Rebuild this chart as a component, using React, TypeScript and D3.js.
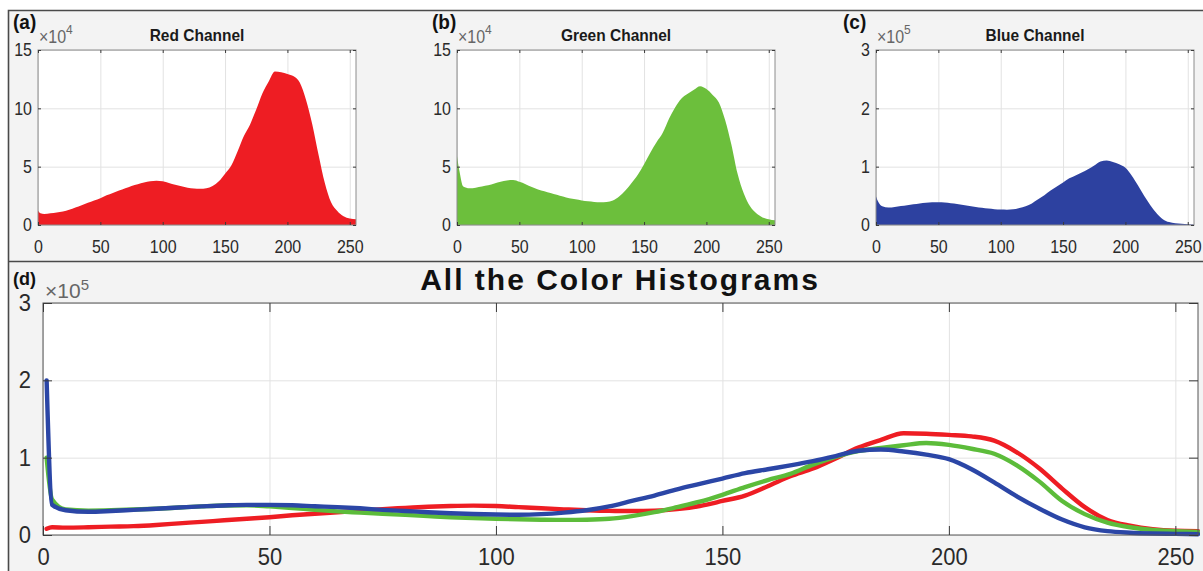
import React, { useEffect, useRef } from 'react';
import * as d3 from 'd3';

// intensity levels the histogram was read at
const levels = [0, 2, 5, 10, 15, 20, 25, 30, 35, 40, 45, 50, 55, 60, 65, 70, 75, 80, 85, 90, 95, 100,
  105, 110, 115, 120, 125, 130, 135, 140, 145, 150, 155, 160, 165, 170, 175, 180, 185, 190, 195, 200,
  205, 210, 215, 220, 225, 230, 235, 240, 245, 250, 255];

const redCounts = [12500, 10000, 9500, 10000, 10800, 11500, 13000, 15000, 17000, 19000, 21000, 23000,
  25500, 27500, 29500, 31500, 33500, 35000, 36500, 37500, 38000, 37500, 36000, 34500, 33200, 32000,
  31200, 31000, 31500, 33500, 37500, 44000, 51000, 63000, 76000, 86000, 99000, 113000, 123000, 131500,
  131000, 129500, 127500, 122000, 107000, 86000, 60000, 36000, 19500, 12000, 7500, 5500, 5000];

const greenCounts = [59000, 46000, 33000, 31500, 32000, 33000, 34000, 35500, 37000, 38200, 38500, 37000,
  35000, 32500, 30500, 29000, 27500, 26000, 24500, 23000, 22000, 21000, 20300, 19800, 19500, 19800,
  21000, 24500, 29500, 36000, 43000, 52000, 62000, 71000, 79000, 91000, 101000, 108500, 112500, 116000,
  119000, 116500, 111500, 105000, 90000, 69000, 44000, 27000, 16000, 10000, 6500, 5000, 4000];

const blueCounts = [49000, 39000, 32000, 30000, 31000, 32500, 34000, 35500, 37000, 38200, 39000, 39000,
  38500, 37200, 36000, 34500, 32500, 31000, 29500, 28200, 27200, 26500, 26200, 27000, 29000, 32000,
  37000, 44000, 51000, 59000, 66000, 73000, 80000, 85000, 90000, 95500, 102000, 109000, 110500, 108000,
  104000, 98000, 85000, 68000, 50000, 34000, 20000, 10000, 5000, 3000, 2000, 1500, 1000];

// first point of the combined plot (the spike at level ~1)
const leadLevels = [0.8];
const redLead = [8000];
const greenLead = [100000];
const blueLead = [200000];

const xTicks = [0, 50, 100, 150, 200, 250];
const ticks1e4 = [0, 50000, 100000, 150000];
const ticks1e5 = [0, 100000, 200000, 300000];

const W = 1203;
const H = 571;
const FONT = 'Liberation Sans, Arial, Helvetica, sans-serif';

const panels = [
  { tag: '(a)', title: 'Red Channel', counts: redCounts, color: '#ee1d23', max: 150000, ticks: ticks1e4, exp: '4', tagDx: -25 },
  { tag: '(b)', title: 'Green Channel', counts: greenCounts, color: '#6cbf3c', max: 150000, ticks: ticks1e4, exp: '4', tagDx: -25 },
  { tag: '(c)', title: 'Blue Channel', counts: blueCounts, color: '#2d41a0', max: 300000, ticks: ticks1e5, exp: '5', tagDx: -33 },
];

const lines = [
  { counts: redCounts, lead: redLead, color: '#ee1d23' },
  { counts: greenCounts, lead: greenLead, color: '#5cbc3a' },
  { counts: blueCounts, lead: blueLead, color: '#2b46a6' },
];

type Sel = d3.Selection<any, any, any, any>;
type Opts = { tick: number; fs: number; sy: number; padX: number; padY: number; frame: string; div: number };

function grid(g: Sel, x: d3.ScaleLinear<number, number>, y: d3.ScaleLinear<number, number>, yTicks: number[]) {
  const [x0, x1] = x.range();
  const [b, t] = y.range();
  g.append('g').attr('transform', `translate(0,${b})`)
    .call(d3.axisBottom(x).tickValues(xTicks).tickSize(-(b - t)).tickFormat(() => ''))
    .call(s => s.select('.domain').remove())
    .selectAll('line').attr('stroke', '#e2e2e2');
  g.append('g').attr('transform', `translate(${x0},0)`)
    .call(d3.axisLeft(y).tickValues(yTicks).tickSize(-(x1 - x0)).tickFormat(() => ''))
    .call(s => s.select('.domain').remove())
    .selectAll('line').attr('stroke', '#e2e2e2');
}

function axesOver(g: Sel, x: d3.ScaleLinear<number, number>, y: d3.ScaleLinear<number, number>, yTicks: number[], o: Opts) {
  const [x0, x1] = x.range();
  const [b, t] = y.range();
  g.append('rect').attr('x', x0).attr('y', t).attr('width', x1 - x0).attr('height', b - t)
    .attr('fill', 'none').attr('stroke', o.frame).attr('stroke-width', 1);

  const bottom = g.append('g').attr('transform', `translate(0,${b})`)
    .call(d3.axisBottom(x).tickValues(xTicks).tickSizeInner(-o.tick).tickSizeOuter(0).tickFormat(d3.format('d')));
  const left = g.append('g').attr('transform', `translate(${x0},0)`)
    .call(d3.axisLeft(y).tickValues(yTicks).tickSizeInner(-o.tick).tickSizeOuter(0).tickFormat(v => String(+v / o.div)));
  const topAx = g.append('g').attr('transform', `translate(0,${t})`)
    .call(d3.axisTop(x).tickValues(xTicks).tickSizeInner(-o.tick).tickSizeOuter(0).tickFormat(() => ''));
  const right = g.append('g').attr('transform', `translate(${x1},0)`)
    .call(d3.axisRight(y).tickValues(yTicks).tickSizeInner(-o.tick).tickSizeOuter(0).tickFormat(() => ''));
  [bottom, left, topAx, right].forEach(a => {
    a.select('.domain').remove();
    a.selectAll('line').attr('stroke', '#3a3a3a');
    a.attr('font-family', FONT).attr('font-size', o.fs);
  });
  bottom.selectAll('text').attr('y', 0).attr('fill', '#2a2a2a')
    .attr('transform', `translate(0,${o.padX}) scale(1,${o.sy})`);
  left.selectAll('text').attr('x', 0).attr('fill', '#2a2a2a')
    .attr('transform', `translate(${-o.padY},0) scale(1,${o.sy})`);
}

function draw(svg: Sel) {
  svg.append('rect').attr('width', W).attr('height', H).attr('fill', '#ffffff');
  svg.append('rect').attr('x', 8).attr('y', 10).attr('width', W - 8).attr('height', H - 10).attr('fill', '#f3f3f3');
  svg.append('path').attr('d', `M8.5,${H} V10.5 H${W} M8.5,261.5 H${W}`)
    .attr('fill', 'none').attr('stroke', '#4a4a4a').attr('stroke-width', 1.6);

  // top three histograms
  panels.forEach((p, i) => {
    const left = 38 + i * 419;
    const x = d3.scaleLinear().domain([0, 255]).range([left, left + 318]);
    const y = d3.scaleLinear().domain([0, p.max]).range([225, 50]);
    const g = svg.append('g');
    g.append('rect').attr('x', left).attr('y', 50).attr('width', 318).attr('height', 175).attr('fill', '#fff');
    const opts = { tick: 3, fs: 16, sy: 1.15, padX: 15, padY: 6, frame: '#8c8c8c', div: p.max === 150000 ? 10000 : 100000 };
    grid(g, x, y, p.ticks);
    const area = d3.area<number>()
      .x((_, j) => x(levels[j]))
      .y0(y(0))
      .y1(d => y(d))
      .curve(d3.curveMonotoneX);
    g.append('path').datum(p.counts).attr('d', area).attr('fill', p.color);
    axesOver(g, x, y, p.ticks, opts);

    g.append('text').attr('transform', `translate(${left + 159},41) scale(1,1.1)`)
      .attr('text-anchor', 'middle').attr('font-family', FONT).attr('font-weight', 'bold')
      .attr('font-size', 15.5).attr('fill', '#1a1a1a').text(p.title);
    g.append('text').attr('transform', `translate(${left + p.tagDx},29) scale(1,1.05)`)
      .attr('font-family', FONT).attr('font-weight', 'bold').attr('font-size', 19).attr('fill', '#111').text(p.tag);
    const e = g.append('text').attr('transform', `translate(${left + 1},43) scale(1,1.1)`)
      .attr('font-family', FONT).attr('font-size', 16).attr('fill', '#666');
    e.append('tspan').text('×10');
    e.append('tspan').attr('font-size', 12).attr('dy', -8).text(p.exp);
  });

  // combined line chart
  const x = d3.scaleLinear().domain([0, 255]).range([43, 1198]);
  const y = d3.scaleLinear().domain([0, 300000]).range([535, 303]);
  const g = svg.append('g');
  g.append('rect').attr('x', 43).attr('y', 303).attr('width', 1155).attr('height', 232).attr('fill', '#fff');
  const opts = { tick: 9, fs: 22, sy: 1.05, padX: 14, padY: 12, frame: '#555', div: 100000 };
  grid(g, x, y, ticks1e5);
  g.append('clipPath').attr('id', 'clipD').append('rect')
    .attr('x', 43).attr('y', 303).attr('width', 1157).attr('height', 236);
  const line = d3.line<[number, number]>().x(d => x(d[0])).y(d => y(d[1])).curve(d3.curveMonotoneX);
  lines.forEach(l => {
    const pts: [number, number][] = leadLevels.map((lv, j) => [lv, l.lead[j]] as [number, number])
      .concat(levels.map((lv, j) => [lv, l.counts[j]] as [number, number]).filter(d => d[0] >= 2));
    g.append('path').datum(pts).attr('d', line).attr('clip-path', 'url(#clipD)')
      .attr('fill', 'none').attr('stroke', l.color).attr('stroke-width', 4.4)
      .attr('stroke-linejoin', 'round').attr('stroke-linecap', 'round');
  });
  axesOver(g, x, y, ticks1e5, opts);

  g.append('text').attr('x', 620).attr('y', 290).attr('text-anchor', 'middle')
    .attr('font-family', FONT).attr('font-weight', 'bold').attr('font-size', 30)
    .attr('letter-spacing', 2).attr('fill', '#111').text('All the Color Histograms');
  g.append('text').attr('x', 13).attr('y', 285).attr('font-family', FONT).attr('font-weight', 'bold')
    .attr('font-size', 18).attr('fill', '#111').text('(d)');
  const e = g.append('text').attr('x', 45).attr('y', 297.5).attr('font-family', FONT)
    .attr('font-size', 21).attr('fill', '#666');
  e.append('tspan').text('×10');
  e.append('tspan').attr('font-size', 15).attr('dy', -8).text('5');
}

export default function App() {
  const ref = useRef<SVGSVGElement>(null);
  useEffect(() => {
    const svg = d3.select(ref.current);
    svg.selectAll('*').remove();
    draw(svg as any);
  }, []);
  return (
    <div style={{ position: 'absolute', left: 0, top: 0 }}>
      <svg ref={ref} width={W} height={H} style={{ display: 'block' }} />
    </div>
  );
}
